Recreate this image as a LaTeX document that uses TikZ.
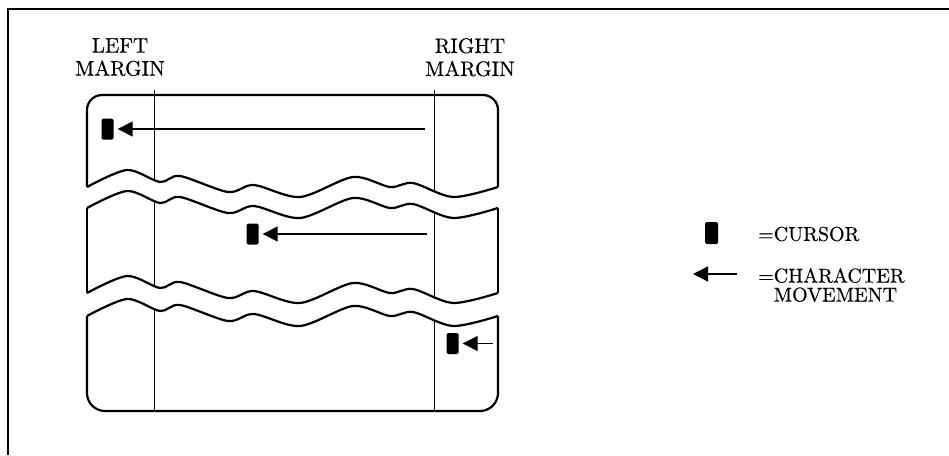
\documentclass[tikz,border=0pt]{standalone}
\usepackage{fontspec}
\setmainfont{lmroman10-regular.otf}[FakeBold=0.3]
\usetikzlibrary{arrows.meta}
\tikzset{
  screen/.style={line width=2.2pt},
  margin/.style={line width=1pt},
  cursor/.style={fill,rounded corners=1.5pt,minimum width=12pt,minimum height=21pt,inner sep=0pt},
  move/.style={-{Triangle[length=15pt,width=15pt]},line width=1.4pt,shorten >=4pt},
  label/.style={font=\fontsize{21}{23}\selectfont,inner sep=0pt,align=center,anchor=north},
  legend/.style={font=\fontsize{20}{19}\selectfont,inner sep=0pt,align=left}
}
% one torn edge of the screen, #1 = its base line
\newcommand\wave[1]{plot[smooth] coordinates{(87,#1) (127,#1-17) (160,#1-5) (180,#1-11) (228,#1+5) (254,#1-2) (300,#1+10) (353,#1-10) (390,#1) (413,#1-4) (453,#1+10) (498,#1)}}
\begin{document}
\begin{tikzpicture}[x=1pt,y=-1pt]
\useasboundingbox (0,0) rectangle (949,455);
\draw[line width=2pt] (949,9) -- (8,9) -- (8,455);
% margin lines, broken at the tears
\begin{scope}
  \clip \wave{187} -- (498,90) -- (87,90) -- cycle;
  \foreach \mx in {154,434} \draw[margin] (\mx,90) -- (\mx,200);
\end{scope}
\begin{scope}
  \clip \wave{208} -- (498,420) -- (87,420) -- cycle;
  \clip \wave{293} -- (498,90) -- (87,90) -- cycle;
  \foreach \mx in {154,434} \draw[margin] (\mx,190) -- (\mx,310);
\end{scope}
\begin{scope}
  \clip \wave{316} -- (498,420) -- (87,420) -- cycle;
  \foreach \mx in {154,434} \draw[margin] (\mx,300) -- (\mx,412);
\end{scope}
% the three pieces of the screen
\draw[screen,rounded corners=15pt] (87,187) -- (87,95) -- (498,95) -- (498,187);
\draw[screen] \wave{187};
\draw[screen] (87,208) -- (87,293) (498,208) -- (498,293);
\draw[screen] \wave{208};
\draw[screen] \wave{293};
\draw[screen,rounded corners=18pt] (87,316) -- (87,411) -- (498,411) -- (498,316);
\draw[screen] \wave{316};
% cursors and their movement
\foreach \cx/\cy/\sx [count=\i] in {107.5/129/425, 252.5/234/427, 452.5/343.5/493}{
  \node[cursor] (c\i) at (\cx,\cy) {};
  \coordinate (s\i) at (\sx,\cy);
  \draw[move] (s\i) -- (c\i);
}
\node[label] (lm) at (120,38) {LEFT\\MARGIN};
\node[label] (rm) at (470,38) {RIGHT\\MARGIN};
% key
\node[cursor,minimum width=13pt,minimum height=22pt] (kc) at (711.5,233) {};
\node[legend,anchor=west] (kct) at (758,234) {=CURSOR};
\coordinate (ka0) at (737,274);
\coordinate (ka1) at (693,274);
\draw[move,shorten >=0pt] (ka0) -- (ka1);
\node[legend,anchor=north west] (kat) at (758,268) {=CHARACTER\\\phantom{=}MOVEMENT};
\end{tikzpicture}
\end{document}
